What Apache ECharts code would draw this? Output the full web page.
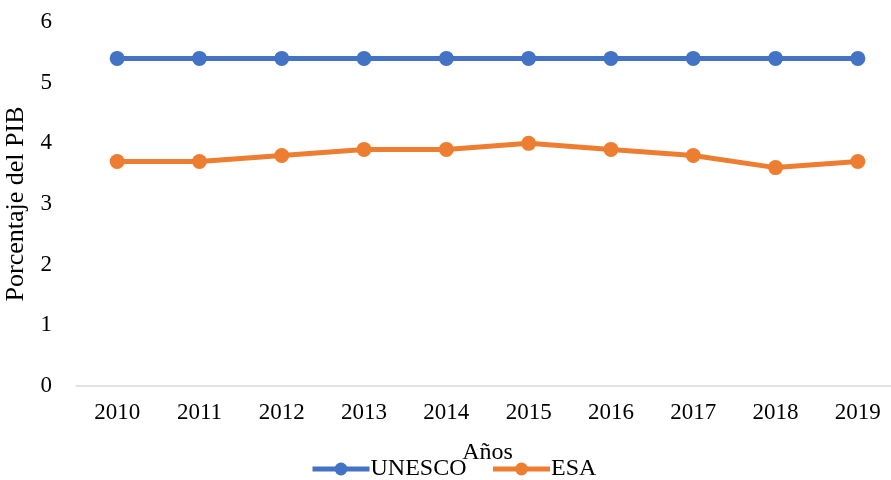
<!DOCTYPE html>
<html><head><meta charset="utf-8">
<script src="https://cdn.jsdelivr.net/npm/echarts@6/dist/echarts.min.js"></script>
<style>html,body{margin:0;padding:0;background:#fff}#c{width:891px;height:480px}</style>
</head><body><div id="c"></div>
<script>
const years = ['2010','2011','2012','2013','2014','2015','2016','2017','2018','2019'];
const unesco = [5.4,5.4,5.4,5.4,5.4,5.4,5.4,5.4,5.4,5.4];
const esa = [3.7,3.7,3.8,3.9,3.9,4.0,3.9,3.8,3.6,3.7];
const yTicks = [0,1,2,3,4,5,6];

const font = 'Liberation Serif, Times New Roman, serif';
const chart = echarts.init(document.getElementById('c'));
chart.setOption({
  animation:false,
  textStyle:{fontFamily:font},
  grid:{left:76, top:22, width:823, height:364, outerBoundsMode:'none', containLabel:false},
  legend:{
    data:['UNESCO','ESA'], bottom:-6, left:305, itemWidth:57, itemHeight:16, itemGap:24,
    lineStyle:{width:5},
    textStyle:{fontFamily:font, fontSize:24, color:'#000', padding:[0,0,0,-4]}
  },
  xAxis:{
    type:'category', data:years, boundaryGap:true,
    name:'Años', nameLocation:'middle', nameGap:55,
    nameTextStyle:{fontFamily:font, fontSize:24, color:'#000'},
    axisLine:{lineStyle:{color:'#d9d9d9', width:1.5}},
    axisTick:{show:false},
    axisLabel:{fontFamily:font, fontSize:23, color:'#000', margin:15}
  },
  yAxis:{
    type:'value', min:yTicks[0], max:yTicks[yTicks.length-1], interval:1,
    name:'Porcentaje del PIB', nameLocation:'middle', nameGap:44,
    nameTextStyle:{fontFamily:font, fontSize:26, color:'#000'},
    axisLine:{show:false}, axisTick:{show:false},
    splitLine:{show:false},
    axisLabel:{fontFamily:font, fontSize:23, color:'#000', margin:24}
  },
  series:[
    {name:'UNESCO', type:'line', data:unesco, symbol:'circle', symbolSize:15,
     lineStyle:{width:5, color:'#4472C4'}, itemStyle:{color:'#4472C4'}},
    {name:'ESA', type:'line', data:esa, symbol:'circle', symbolSize:15,
     lineStyle:{width:5, color:'#ED7D31'}, itemStyle:{color:'#ED7D31'}}
  ]
});
</script></body></html>
